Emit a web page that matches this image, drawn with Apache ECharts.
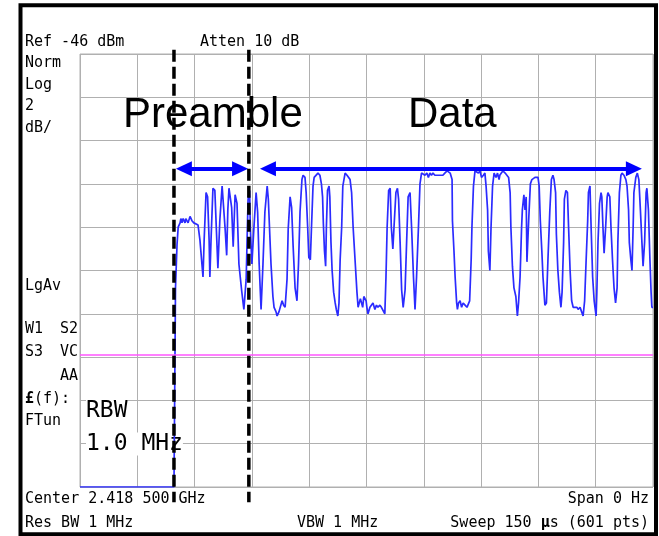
<!DOCTYPE html>
<html>
<head>
<meta charset="utf-8">
<script src="https://cdn.jsdelivr.net/npm/echarts@6/dist/echarts.min.js"></script>
<style>
  html, body { margin: 0; padding: 0; background: #fff; }
  #chart { width: 659px; height: 536px; }
</style>
</head>
<body>
<div id="chart"></div>
<script>
// zero-span sweep, 150 us, ref -46 dBm, 2 dB/div
var sweepUs = [0, 150];
var levelRange = [-66, -46];

// trace: time (us) and level (dBm)
var timeUs = [
  0, 24.6, 24.9, 25.0, 25.4, 25.7, 26.2, 26.4, 26.7, 27.0,
  27.5, 27.7, 28.3, 28.8, 29.3, 29.8, 30.9, 31.4, 32.2, 32.5,
  33.0, 33.4, 33.8, 34.0, 34.3, 34.8, 35.3, 35.7, 36.1, 36.6,
  37.2, 37.6, 38.0, 38.4, 38.7, 39.0, 39.7, 40.1, 40.6, 41.1,
  41.6, 42.3, 42.9, 43.5, 43.7, 44.0, 44.4, 44.6, 45.0, 45.5,
  46.1, 46.5, 46.9, 47.4, 47.9, 48.4, 49.0, 49.3, 50.0, 50.5,
  50.8, 51.3, 51.6, 52.1, 52.9, 53.3, 53.7, 54.2, 54.5, 55.0,
  55.4, 55.8, 56.3, 56.8, 57.2, 57.6, 58.1, 58.4, 58.9, 59.2,
  59.6, 59.9, 60.3, 60.6, 61.0, 61.3, 61.8, 62.3, 62.8, 63.2,
  63.5, 63.7, 64.0, 64.3, 64.5, 64.8, 65.2, 65.4, 65.7, 66.0,
  66.4, 66.8, 67.1, 67.5, 67.8, 68.1, 68.5, 68.8, 69.4, 69.9,
  70.7, 71.1, 71.5, 72.0, 72.5, 72.8, 73.2, 73.4, 74.0, 74.3,
  74.9, 75.1, 75.4, 75.9, 76.3, 76.7, 77.2, 77.6, 78.0, 78.5,
  78.9, 79.3, 79.8, 80.1, 80.4, 80.8, 81.2, 81.5, 81.9, 82.2,
  82.7, 83.1, 83.4, 83.8, 84.2, 84.6, 85.1, 85.5, 85.9, 86.4,
  86.8, 87.3, 87.7, 88.1, 88.6, 89.0, 89.4, 89.9, 90.3, 90.8,
  91.2, 91.6, 92.0, 92.4, 92.9, 93.5, 94.2, 95.0, 95.5, 96.1,
  96.9, 97.4, 97.5, 97.9, 98.2, 98.6, 98.8, 99.1, 99.5, 99.9,
  100.3, 100.8, 101.3, 101.7, 102.0, 102.4, 102.6, 103.0, 103.4, 103.9,
  104.3, 104.7, 105.1, 105.6, 106.0, 106.3, 106.7, 106.9, 107.3, 107.6,
  108.0, 108.4, 108.9, 109.3, 109.7, 109.9, 110.3, 110.7, 111.3, 111.8,
  112.2, 112.6, 112.8, 113.2, 113.6, 114.1, 114.5, 114.8, 115.2, 115.6,
  115.8, 116.2, 116.5, 116.8, 117.0, 117.5, 117.9, 118.3, 119.1, 119.9,
  120.2, 120.5, 120.9, 121.2, 121.7, 122.1, 122.5, 123.0, 123.4, 123.8,
  124.1, 124.5, 124.7, 125.1, 125.5, 125.9, 126.2, 126.6, 126.8, 127.2,
  127.6, 127.9, 128.3, 128.7, 129.1, 129.6, 130.1, 130.4, 130.9, 131.3,
  131.7, 132.1, 132.5, 132.9, 133.1, 133.5, 133.8, 134.2, 134.6, 135.1,
  135.3, 135.6, 136.0, 136.4, 136.6, 136.9, 137.2, 137.6, 138.0, 138.2,
  138.7, 139.0, 139.4, 139.8, 140.2, 140.6, 140.8, 141.2, 141.6, 141.9,
  142.4, 142.9, 143.2, 143.6, 143.8, 144.2, 144.5, 144.8, 145.0, 145.5,
  145.9, 146.3, 146.7, 147.1, 147.4, 147.8, 148.2, 148.4, 148.8, 149.2,
  149.5, 149.7, 150.0
];
var levelDbm = [
  -66.0, -66.0, -66.0, -56.8, -54.8, -54.0, -53.8, -53.6, -53.8, -53.6,
  -53.8, -53.6, -53.8, -53.5, -53.7, -53.8, -53.9, -54.6, -56.3, -54.6,
  -52.4, -52.6, -54.6, -56.3, -54.6, -52.2, -52.3, -54.1, -55.9, -53.7,
  -52.1, -52.1, -54.1, -55.3, -53.2, -52.2, -53.1, -54.9, -52.5, -52.9,
  -55.7, -56.9, -57.8, -56.4, -54.9, -52.7, -52.3, -54.1, -55.7, -54.1,
  -52.4, -53.3, -55.7, -57.8, -55.7, -53.3, -52.1, -52.7, -55.7, -57.2,
  -57.7, -57.9, -58.1, -57.9, -57.4, -57.6, -57.7, -56.4, -54.1, -52.6,
  -53.1, -54.9, -56.8, -57.4, -55.7, -53.3, -51.8, -51.6, -51.7, -52.4,
  -54.0, -55.4, -55.5, -54.0, -52.1, -51.7, -51.7, -51.5, -51.6, -52.0,
  -52.6, -53.8, -55.1, -55.8, -54.0, -52.3, -52.1, -52.6, -54.7, -56.0,
  -57.0, -57.5, -57.8, -58.1, -57.5, -55.5, -54.0, -52.1, -51.5, -51.6,
  -51.8, -52.4, -54.0, -55.5, -57.0, -57.7, -57.7, -57.3, -57.7, -57.2,
  -57.4, -57.7, -58.0, -57.7, -57.7, -57.5, -57.8, -57.6, -57.7, -57.6,
  -57.7, -57.7, -58.0, -56.3, -54.0, -52.3, -52.2, -54.0, -55.0, -54.0,
  -52.4, -52.2, -52.7, -54.7, -56.9, -57.7, -56.9, -54.7, -52.6, -52.4,
  -54.0, -56.3, -57.8, -56.3, -54.0, -52.0, -51.5, -51.5, -51.6, -51.5,
  -51.7, -51.5, -51.6, -51.5, -51.6, -51.6, -51.6, -51.6, -51.5, -51.4,
  -51.5, -51.8, -53.7, -55.1, -56.3, -57.5, -57.8, -57.5, -57.4, -57.7,
  -57.5, -57.6, -57.7, -57.7, -57.4, -55.5, -54.0, -52.1, -51.4, -51.4,
  -51.5, -51.4, -51.7, -51.6, -51.5, -52.1, -53.2, -55.1, -56.0, -54.0,
  -52.1, -51.5, -51.7, -51.5, -51.8, -51.6, -51.5, -51.4, -51.5, -51.5,
  -51.7, -52.4, -54.0, -55.8, -56.8, -57.2, -58.1, -57.5, -56.3, -54.0,
  -53.2, -52.5, -53.2, -52.6, -55.6, -53.5, -52.0, -51.8, -51.7, -51.7,
  -52.1, -53.7, -55.1, -56.3, -57.6, -57.5, -55.5, -53.2, -51.8, -51.6,
  -51.8, -52.4, -54.3, -56.0, -57.0, -57.7, -57.0, -54.7, -52.7, -52.3,
  -52.4, -54.0, -56.0, -57.4, -57.7, -57.7, -57.7, -57.8, -57.7, -57.9,
  -58.1, -57.4, -55.5, -53.7, -52.4, -52.1, -54.0, -56.3, -57.4, -58.1,
  -57.0, -54.7, -52.9, -52.4, -52.6, -54.0, -55.2, -54.0, -52.6, -52.4,
  -52.6, -54.0, -55.5, -56.8, -57.5, -56.8, -54.7, -52.4, -51.6, -51.5,
  -51.6, -51.8, -52.1, -53.2, -54.7, -55.5, -56.0, -54.0, -52.4, -51.7,
  -51.5, -51.8, -53.2, -54.7, -55.8, -54.7, -52.4, -52.2, -53.2, -55.5,
  -57.0, -57.7, -57.7
];

// display line (dBm)
var displayLine = -59.9;
// preamble / data boundaries (us) and how far the dashes run (dBm)
var markerTimes = [24.6, 44.2];
var markerSpan = [-45.8, -66.7];
// arrow spans (us, arrowhead centres) and their level (dBm)
var preambleSpan = [27.2, 41.9];
var dataSpan = [49.2, 145.0];
var arrowLevel = -51.3;

var topLines = ['Ref -46 dBm', 'Atten 10 dB'];
var sideLines = ['Norm', 'Log', '2', 'dB/'];
var bottomLeft = ['Center 2.418 500 GHz', 'Res BW 1 MHz'];
var bottomMid = ['VBW 1 MHz'];
var bottomRight = ['Span 0 Hz', 'Sweep 150 {b|\u00b5}s (601 pts)'];

var trace = timeUs.map(function (t, i) { return [t, levelDbm[i]]; });

var mono = '"DejaVu Sans Mono", "Liberation Mono", monospace';
function lbl(text, x, y, o) {
  o = o || {};
  return {
    type: 'text', x: x, y: y, z: o.z || 100,
    style: {
      text: text,
      fontFamily: o.family || mono,
      fontSize: o.size || 15,
      fill: '#000',
      align: o.align || 'left',
      verticalAlign: 'middle',
      backgroundColor: o.bg,
      rich: { b: { fontFamily: o.family || mono, fontSize: o.size || 15, fontWeight: 'bold' } }
    }
  };
}

var chart = echarts.init(document.getElementById('chart'));
var option = {
  backgroundColor: '#fff',
  animation: false,
  grid: { left: 80, top: 54, width: 573, height: 433, show: true, borderColor: '#b0b0b0', borderWidth: 1 },
  xAxis: {
    type: 'value', min: sweepUs[0], max: sweepUs[1], interval: 15,
    axisLine: { show: false }, axisTick: { show: false }, axisLabel: { show: false },
    splitLine: { lineStyle: { color: '#b0b0b0', width: 1 } }
  },
  yAxis: {
    type: 'value', min: levelRange[0], max: levelRange[1], interval: 2,
    axisLine: { show: false }, axisTick: { show: false }, axisLabel: { show: false },
    splitLine: { lineStyle: { color: '#b0b0b0', width: 1 } }
  },
  series: [
    {
      type: 'line', data: trace, symbol: 'none', z: 3,
      lineStyle: { color: '#2b2bff', width: 1.7 },
      markLine: {
        silent: true, symbol: 'none', label: { show: false },
        lineStyle: { color: '#ff55ff', width: 1.5, type: 'solid' },
        data: [{ yAxis: displayLine }]
      }
    },
    {
      type: 'line', data: [[markerTimes[0], markerSpan[0]], [markerTimes[0], markerSpan[1]]],
      symbol: 'none', clip: false, z: 6,
      lineStyle: { color: '#000', width: 3.5, type: [12, 5] }
    },
    {
      type: 'line', data: [[markerTimes[1], markerSpan[0]], [markerTimes[1], markerSpan[1]]],
      symbol: 'none', clip: false, z: 6,
      lineStyle: { color: '#000', width: 3.5, type: [12, 5] }
    },
    {
      type: 'line', data: [], z: 7,
      markLine: {
        silent: true, symbol: ['triangle', 'triangle'], symbolSize: [15, 16],
        label: { show: false },
        lineStyle: { color: '#0000ff', width: 4, type: 'solid' },
        itemStyle: { color: '#0000ff' },
        data: [
          [{ coord: [preambleSpan[0], arrowLevel] }, { coord: [preambleSpan[1], arrowLevel] }],
          [{ coord: [dataSpan[0], arrowLevel] }, { coord: [dataSpan[1], arrowLevel] }]
        ]
      }
    }
  ],
  graphic: [
    { type: 'rect', z: 100, shape: { x: 20.5, y: 5.3, width: 635.5, height: 529 },
      style: { fill: 'none', stroke: '#000', lineWidth: 4 } },
    lbl(topLines[0], 25, 42),
    lbl(topLines[1], 200, 42),
    lbl(sideLines[0], 25, 63),
    lbl(sideLines[1], 25, 85),
    lbl(sideLines[2], 25, 106),
    lbl(sideLines[3], 25, 128),
    lbl('LgAv', 25, 286),
    lbl('W1', 25, 329),
    lbl('S2', 78, 329, { align: 'right' }),
    lbl('S3', 25, 352),
    lbl('VC', 78, 352, { align: 'right' }),
    lbl('AA', 78, 376, { align: 'right' }),
    lbl('{b|\u00a3}(f):', 25, 399),
    lbl('FTun', 25, 421),
    lbl('RBW', 86, 411, { size: 23, z: 1, bg: '#fff' }),
    lbl('1.0 MHz', 86, 444, { size: 23, z: 1, bg: '#fff' }),
    lbl(bottomLeft[0], 25, 499),
    lbl(bottomLeft[1], 25, 523),
    lbl(bottomMid[0], 297, 523),
    lbl(bottomRight[0], 649, 499, { align: 'right' }),
    lbl(bottomRight[1], 649, 523, { align: 'right' }),
    lbl('Preamble', 123, 115, { size: 42, family: '"Liberation Sans", Arial, sans-serif', z: 8 }),
    lbl('Data', 408, 115, { size: 42, family: '"Liberation Sans", Arial, sans-serif', z: 8 })
  ]
};
chart.setOption(option);
</script>
</body>
</html>
